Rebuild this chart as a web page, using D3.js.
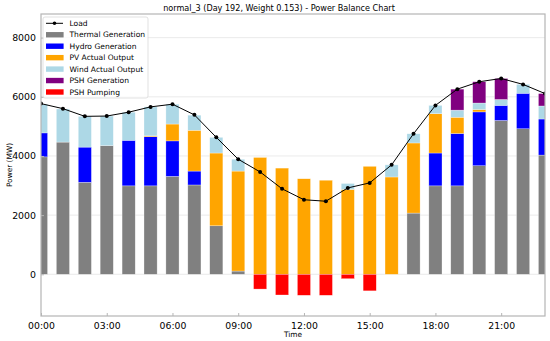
<!DOCTYPE html>
<html>
<head>
  <meta charset="utf-8">
  <title>Power Balance Chart</title>
  <script src="https://d3js.org/d3.v7.min.js"></script>
  <style>
    body { margin: 0; background: #fff; }
    text { font-family: "DejaVu Sans", sans-serif; fill: #000; }
  </style>
</head>
<body>

  <svg width="550" height="341"></svg>

  <script>

    // Hourly data (MW)
    const hours = d3.range(24);
    const xTickHours = [0, 3, 6, 9, 12, 15, 18, 21];
    const xTickLabels = ["00:00", "03:00", "06:00", "09:00", "12:00", "15:00", "18:00", "21:00"];
    const yTicks = [0, 2000, 4000, 6000, 8000];

    const thermal = [3970, 4470, 3110, 4350, 2990, 2990, 3310, 3020, 1640, 110, 0, 0,
                     0, 0, 0, 0, 0, 2070, 2990, 2990, 3670, 5200, 4920, 4030];
    const hydro   = [810, 0, 1190, 0, 1540, 1660, 1200, 470, 0, 0, 0, 0,
                     0, 0, 0, 0, 0, 0, 1110, 1770, 1820, 510, 1200, 1220];
    const pv      = [0, 0, 0, 0, 0, 30, 570, 1380, 2460, 3380, 3950, 3590,
                     3230, 3180, 2870, 3650, 3290, 2370, 1330, 550, 80, 0, 0, 0];
    const wind    = [970, 1120, 1040, 1000, 950, 980, 670, 510, 530, 400, 0, 0,
                     0, 0, 200, 0, 410, 310, 280, 240, 220, 200, 300, 440];
    const pshGen  = [0, 0, 0, 0, 0, 0, 0, 0, 0, 0, 0, 0,
                     0, 0, 0, 0, 0, 0, 0, 710, 720, 710, 0, 420];
    const pshPump = [0, 0, 0, 0, 0, 0, 0, 0, 0, 0, -500, -700,
                     -710, -710, -150, -560, 0, 0, 0, 0, 0, 0, 0, 0];
    const load    = [5770, 5600, 5340, 5350, 5480, 5660, 5750, 5390, 4630, 3890, 3460, 2890,
                     2520, 2470, 2920, 3090, 3700, 4750, 5710, 6260, 6510, 6620, 6420, 6110];

    const series = [
      { name: "Thermal Generation", values: thermal, color: "#808080" },
      { name: "Hydro Generation", values: hydro, color: "#0000ff" },
      { name: "PV Actual Output", values: pv, color: "#ffa500" },
      { name: "Wind Actual Output", values: wind, color: "#add8e6" },
      { name: "PSH Generation", values: pshGen, color: "#800080" }
    ];
    const pump = { name: "PSH Pumping", values: pshPump, color: "#ff0000" };

    // Chart dimensions
    const margin = { top: 14, right: 5, bottom: 25, left: 41 };
    const width = 550, height = 341;
    const plotRight = width - margin.right;
    const plotBottom = height - margin.bottom;

    const svg = d3.select("svg");

    const x = d3.scaleLinear().domain([0, 23]).range([margin.left, plotRight]);
    const y = d3.scaleLinear().domain([-1410, 8800]).range([plotBottom, margin.top]);
    const barW = x(0.6) - x(0);

    svg.append("defs").append("clipPath").attr("id", "clip")
      .append("rect")
        .attr("x", margin.left).attr("y", margin.top)
        .attr("width", plotRight - margin.left)
        .attr("height", plotBottom - margin.top);

    // Grid lines
    svg.append("g")
      .selectAll("line")
      .data(yTicks)
      .enter().append("line")
        .attr("x1", margin.left).attr("x2", plotRight)
        .attr("y1", d => y(d)).attr("y2", d => y(d))
        .attr("stroke", "#e4e4e4")
        .attr("stroke-width", 0.8);

    const plot = svg.append("g").attr("clip-path", "url(#clip)");

    // Stacked positive bars
    const base = hours.map(() => 0);
    series.forEach(s => {
      const rows = hours.map((h, i) => {
        const y0 = base[i];
        base[i] += s.values[i];
        return { h, y0, y1: base[i] };
      }).filter(d => d.y1 > d.y0);

      plot.append("g")
        .selectAll("rect")
        .data(rows)
        .enter().append("rect")
          .attr("x", d => x(d.h) - barW / 2)
          .attr("width", barW)
          .attr("y", d => y(d.y1))
          .attr("height", d => y(d.y0) - y(d.y1))
          .attr("fill", s.color)
          .attr("stroke", "#fff")
          .attr("stroke-opacity", 0.6)
          .attr("stroke-width", 0.5);
    });

    // Pumping bars (negative)
    plot.append("g")
      .selectAll("rect")
      .data(hours.filter(h => pump.values[h] < 0))
      .enter().append("rect")
        .attr("x", h => x(h) - barW / 2)
        .attr("width", barW)
        .attr("y", y(0))
        .attr("height", h => y(pump.values[h]) - y(0))
        .attr("fill", pump.color)
        .attr("stroke", "#fff")
        .attr("stroke-opacity", 0.6)
        .attr("stroke-width", 0.5);

    // Load line
    const line = d3.line().x((d, i) => x(i)).y(d => y(d));
    plot.append("path")
      .datum(load)
      .attr("d", line)
      .attr("fill", "none")
      .attr("stroke", "#000")
      .attr("stroke-width", 1);

    plot.append("g")
      .selectAll("circle")
      .data(load)
      .enter().append("circle")
        .attr("cx", (d, i) => x(i))
        .attr("cy", d => y(d))
        .attr("r", 2)
        .attr("fill", "#000");

    // Frame
    svg.append("rect")
      .attr("x", margin.left).attr("y", margin.top)
      .attr("width", plotRight - margin.left)
      .attr("height", plotBottom - margin.top)
      .attr("fill", "none")
      .attr("stroke", "#b5b5b5")
      .attr("stroke-width", 1.2);

    // Axes
    const xAxis = svg.append("g")
      .attr("transform", `translate(0,${plotBottom})`)
      .call(d3.axisBottom(x)
        .tickValues(xTickHours)
        .tickFormat((d, i) => xTickLabels[i])
        .tickSize(-3)
        .tickPadding(6));
    xAxis.select(".domain").remove();
    xAxis.selectAll("line").attr("stroke", "#b5b5b5");
    xAxis.selectAll("text").attr("font-size", "9.3px").attr("font-family", "DejaVu Sans");

    const yAxis = svg.append("g")
      .attr("transform", `translate(${margin.left},0)`)
      .call(d3.axisLeft(y)
        .tickValues(yTicks)
        .tickFormat(d3.format("d"))
        .tickSize(-3)
        .tickPadding(5));
    yAxis.select(".domain").remove();
    yAxis.selectAll("line").attr("stroke", "#b5b5b5");
    yAxis.selectAll("text").attr("font-size", "9.4px").attr("font-family", "DejaVu Sans");

    // Title and axis labels
    svg.append("text")
      .attr("x", 279).attr("y", 10.5)
      .attr("text-anchor", "middle")
      .attr("font-size", "8.1px")
      .text("normal_3 (Day 192, Weight 0.153) - Power Balance Chart");

    svg.append("text")
      .attr("x", (margin.left + plotRight) / 2).attr("y", 336.5)
      .attr("text-anchor", "middle")
      .attr("font-size", "7.4px")
      .text("Time");

    svg.append("text")
      .attr("transform", `translate(12,${(margin.top + plotBottom) / 2}) rotate(-90)`)
      .attr("text-anchor", "middle")
      .attr("font-size", "7.4px")
      .text("Power (MW)");

    // Legend
    const legend = svg.append("g").attr("transform", "translate(43,17)");
    legend.append("rect")
      .attr("width", 105).attr("height", 81)
      .attr("rx", 2)
      .attr("fill", "#fff").attr("fill-opacity", 0.8)
      .attr("stroke", "#d9d9d9").attr("stroke-width", 0.8);

    const legendItems = [{ name: "Load", line: true }]
      .concat(series.map(s => ({ name: s.name, color: s.color })))
      .concat([{ name: pump.name, color: pump.color }]);

    const item = legend.selectAll(".item")
      .data(legendItems)
      .enter().append("g")
        .attr("class", "item")
        .attr("transform", (d, i) => `translate(0,${6.3 + i * 11.45})`);

    item.filter(d => d.line).append("line")
      .attr("x1", 3).attr("x2", 20).attr("stroke", "#000").attr("stroke-width", 1);
    item.filter(d => d.line).append("circle")
      .attr("cx", 11.5).attr("r", 1.8).attr("fill", "#000");
    item.filter(d => !d.line).append("rect")
      .attr("x", 3).attr("y", -2.7).attr("width", 17.6).attr("height", 5.4)
      .attr("fill", d => d.color);
    item.append("text")
      .attr("x", 26.5).attr("y", 2.7)
      .attr("font-size", "7.55px")
      .text(d => d.name);

  </script>

</body>
</html>
